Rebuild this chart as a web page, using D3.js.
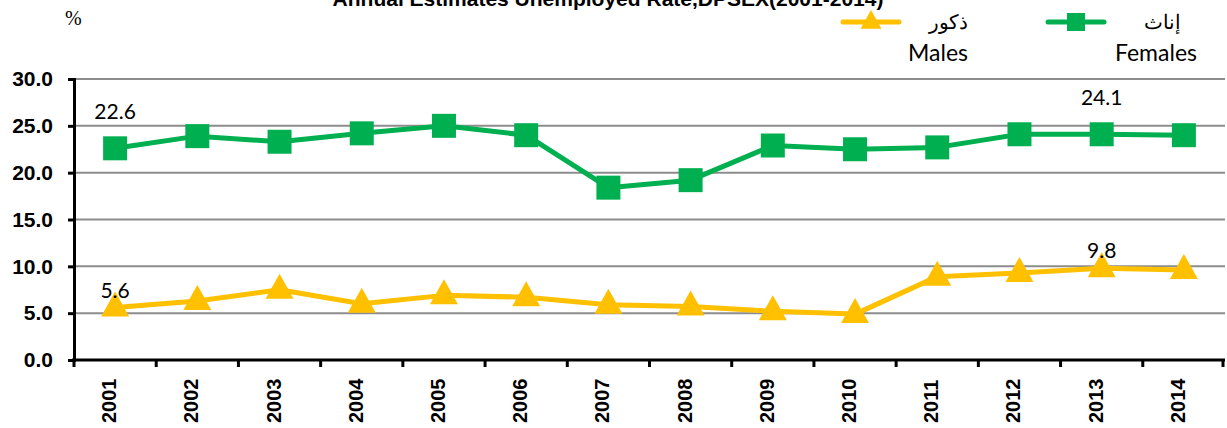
<!DOCTYPE html>
<html>
<head>
<meta charset="utf-8">
<script src="https://cdn.jsdelivr.net/npm/d3@7"></script>
<style>
  body { margin: 0; background: #fff; }
  text { font-family: Lato, "Open Sans", sans-serif; }
</style>
</head>
<body>
<svg width="1227" height="428"></svg>
<script>
var svg = d3.select("svg");

// data
var years = ["2001","2002","2003","2004","2005","2006","2007","2008","2009","2010","2011","2012","2013","2014"];
var females = [22.6, 23.9, 23.3, 24.2, 25.0, 24.0, 18.4, 19.2, 22.9, 22.5, 22.7, 24.1, 24.1, 24.0];
var males = [5.6, 6.3, 7.5, 6.0, 6.9, 6.7, 5.9, 5.7, 5.2, 4.9, 8.9, 9.3, 9.8, 9.6];
var yTicks = [0, 5, 10, 15, 20, 25, 30];
// which points carry a value label
var femaleLabels = ["2001", "2013"];
var maleLabels = ["2001", "2013"];

var green = "#00B050", gold = "#FFC000";

var x = d3.scaleBand().domain(years).range([74, 1225]);
var y = d3.scaleLinear().domain([0, 30]).range([360, 79]);

// title, cut off at the top like the original
svg.append("text")
  .attr("x", 608).attr("y", 6)
  .attr("text-anchor", "middle")
  .attr("font-weight", "bold")
  .attr("font-size", 21)
  .style("font-family", "'Liberation Sans', Arial, sans-serif")
  .text("Annual Estimates Unemployed  Rate,DPSEX(2001-2014)");

svg.append("text")
  .attr("x", 65).attr("y", 25)
  .attr("font-size", 20)
  .style("font-family", "'Liberation Serif', serif")
  .text("%");

// grid
svg.append("g")
  .selectAll("line")
  .data(yTicks.slice(1))
  .enter().append("line")
  .attr("x1", 74).attr("x2", 1225)
  .attr("y1", function(d) { return y(d); })
  .attr("y2", function(d) { return y(d); })
  .attr("stroke", "#8c8c8c")
  .attr("stroke-width", 2);

// y axis
var gy = svg.append("g")
  .attr("transform", "translate(74,0)")
  .call(d3.axisLeft(y).tickValues(yTicks).tickSize(6).tickFormat(d3.format(".1f")));
gy.select(".domain").attr("stroke", "#000").attr("stroke-width", 3);
gy.selectAll(".tick line").attr("stroke", "#000").attr("stroke-width", 3);
gy.selectAll(".tick text")
  .attr("x", -21)
  .attr("font-size", 21)
  .attr("font-weight", "bold")
  .attr("fill", "#000")
  .style("font-family", "'Liberation Sans', Arial, sans-serif");

// x axis, ticks between categories
var gx = svg.append("g").attr("transform", "translate(0,360)");
gx.append("line")
  .attr("x1", 72).attr("x2", 1225)
  .attr("stroke", "#000").attr("stroke-width", 3);
gx.selectAll(".tk")
  .data(years.concat(["end"]))
  .enter().append("line")
  .attr("class", "tk")
  .attr("x1", function(d, i) { return i < years.length ? x(d) : x.range()[1] - 2; })
  .attr("x2", function(d, i) { return i < years.length ? x(d) : x.range()[1] - 2; })
  .attr("y1", 0).attr("y2", 7)
  .attr("stroke", "#000").attr("stroke-width", 3);
gx.selectAll(".yl")
  .data(years)
  .enter().append("text")
  .attr("class", "yl")
  .attr("transform", function(d) {
    return "translate(" + (x(d) + x.bandwidth() / 2 + 1) + ",63) rotate(-90)";
  })
  .attr("font-size", 20)
  .attr("font-weight", "bold")
  .style("font-family", "'Liberation Sans', Arial, sans-serif")
  .text(function(d) { return d; });

var cx = function(d, i) { return x(years[i]) + x.bandwidth() / 2; };

function series(vals, color, shape) {
  var g = svg.append("g");
  g.append("path")
    .datum(vals)
    .attr("fill", "none")
    .attr("stroke", color)
    .attr("stroke-width", 5)
    .attr("stroke-linejoin", "round")
    .attr("d", d3.line().x(cx).y(function(d) { return y(d); }));
  g.selectAll("path.m")
    .data(vals)
    .enter().append("path")
    .attr("class", "m")
    .attr("fill", color)
    .attr("transform", function(d, i) { return "translate(" + cx(d, i) + "," + y(d) + ")"; })
    .attr("d", shape);
}

var squareShape = "M-12,-12H12V12H-12Z";
var triShape = "M0,-16L14,9H-14Z";

series(females, green, squareShape);
series(males, gold, triShape);

function labels(vals, which, dy) {
  svg.append("g")
    .selectAll("text")
    .data(years.filter(function(d) { return which.indexOf(d) >= 0; }))
    .enter().append("text")
    .attr("x", function(d) { return x(d) + x.bandwidth() / 2; })
    .attr("y", function(d) { return y(vals[years.indexOf(d)]) + dy; })
    .attr("text-anchor", "middle")
    .attr("font-size", 21)
    .text(function(d) { return vals[years.indexOf(d)].toFixed(1); });
}
labels(females, femaleLabels, -29);
labels(males, maleLabels, -10);

// legend
var legend = [
  { ar: "ذكور", en: "Males", color: gold, shape: triShape, x: 843 },
  { ar: "إناث", en: "Females", color: green, shape: squareShape, x: 1048 }
];
var lg = svg.append("g").selectAll("g")
  .data(legend)
  .enter().append("g")
  .attr("transform", function(d) { return "translate(" + d.x + ",0)"; });
lg.append("line")
  .attr("x1", 0).attr("x2", 56)
  .attr("y1", 22).attr("y2", 22)
  .attr("stroke", function(d) { return d.color; })
  .attr("stroke-width", 5)
  .attr("stroke-linecap", "round");
lg.append("path")
  .attr("transform", "translate(28,22) scale(0.75)")
  .attr("fill", function(d) { return d.color; })
  .attr("d", function(d) { return d.shape; });
lg.append("text")
  .attr("x", function(d, i) { return i === 0 ? 125 : 133; })
  .attr("y", 29)
  .attr("text-anchor", "end")
  .attr("font-size", 20)
  .text(function(d) { return d.ar; });
lg.append("text")
  .attr("x", function(d, i) { return i === 0 ? 125 : 149; })
  .attr("y", 61)
  .attr("text-anchor", "end")
  .attr("font-size", 23)
  .text(function(d) { return d.en; });
</script>
</body>
</html>
